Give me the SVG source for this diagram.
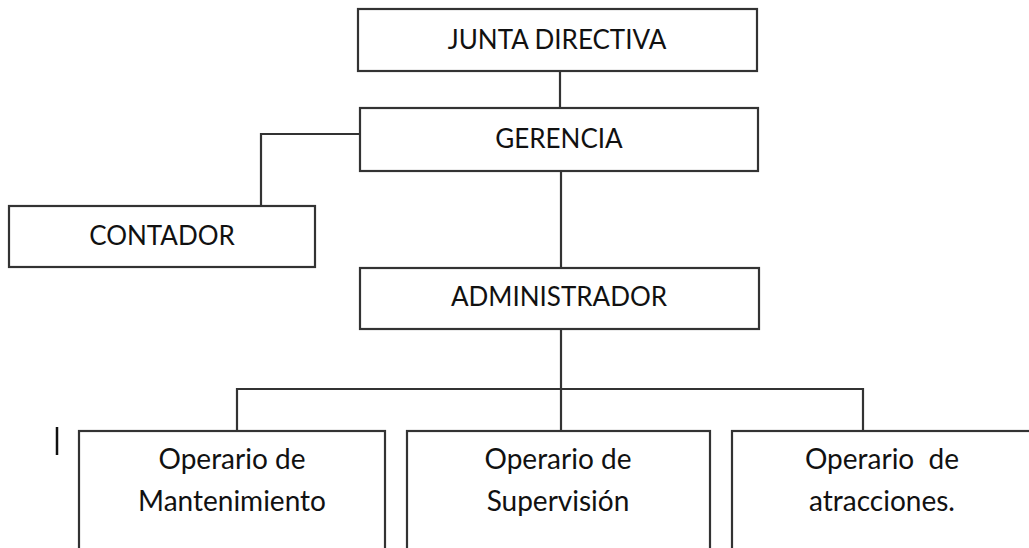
<svg xmlns="http://www.w3.org/2000/svg" width="1029" height="548" viewBox="0 0 1029 548">
<style>
.box{fill:#fff;stroke:#333;stroke-width:2.2}
.lbl{font-family:Lato,"Liberation Sans",sans-serif;font-size:26px;fill:#111;text-anchor:middle}
.sm{font-size:28px}
.con{fill:none;stroke:#333;stroke-width:2.2}
</style>
<rect width="1029" height="548" fill="#fff"/>
<g id="connectors">
<line class="con" x1="560" y1="71" x2="560" y2="108"/>
<polyline class="con" points="360,134 261,134 261,206"/>
<line class="con" x1="561" y1="171" x2="561" y2="268"/>
<line class="con" x1="561" y1="329" x2="561" y2="431"/>
<polyline class="con" points="237,431 237,389 863,389 863,431"/>
</g>
<g id="junta"><rect class="box" x="358" y="9" width="399" height="62"/><text class="lbl" x="557" y="49">JUNTA DIRECTIVA</text></g>
<g id="gerencia"><rect class="box" x="360" y="108" width="398" height="63"/><text class="lbl" x="559" y="148">GERENCIA</text></g>
<g id="contador"><rect class="box" x="9" y="206" width="306" height="61"/><text class="lbl" x="162" y="245">CONTADOR</text></g>
<g id="administrador"><rect class="box" x="360" y="268" width="399" height="61"/><text class="lbl" x="559" y="306">ADMINISTRADOR</text></g>
<g id="op-mant"><rect class="box" x="79" y="431" width="306" height="140"/><text class="lbl sm" x="232" y="469">Operario de</text><text class="lbl sm" x="232" y="511">Mantenimiento</text></g>
<g id="op-sup"><rect class="box" x="407" y="431" width="303" height="140"/><text class="lbl sm" x="558" y="469">Operario de</text><text class="lbl sm" x="558" y="511">Supervisión</text></g>
<g id="op-atr"><rect class="box" x="732" y="431" width="303" height="140"/><text class="lbl sm" x="882" y="469" xml:space="preserve">Operario  de</text><text class="lbl sm" x="882" y="511">atracciones.</text></g>
<line x1="57" y1="427" x2="57" y2="455" stroke="#111" stroke-width="2.5"/>
</svg>
